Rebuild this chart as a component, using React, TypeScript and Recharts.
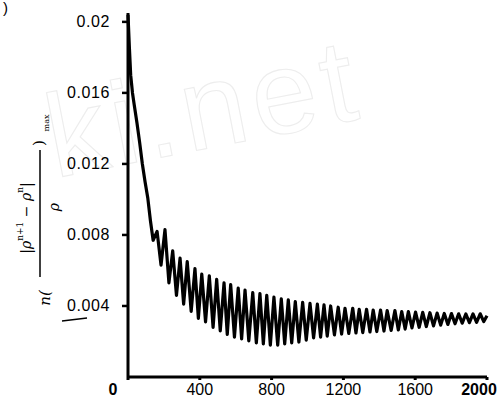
import React from 'react';
import { LineChart, Line, XAxis, YAxis } from 'recharts';

// iteration number n and the max relative density change
const steps = [
  0, 8, 15, 25, 35, 50, 65, 80, 95, 110, 125, 140,
  162, 184, 206, 228, 249, 270, 290, 310, 330, 352, 373, 392, 411, 432, 453, 474,
  494, 514, 535, 553, 572, 593, 614, 633, 652, 673, 695, 715, 735, 754, 773, 793,
  813, 834, 854, 873, 893, 912, 932, 952, 973, 993, 1014, 1034, 1055, 1073, 1092, 1110,
  1129, 1150, 1171, 1190, 1209, 1230, 1252, 1270, 1288, 1308, 1329, 1348, 1366, 1386,
  1407, 1426, 1444, 1466, 1487, 1506, 1525, 1544, 1562, 1582, 1602, 1622, 1642, 1662,
  1682, 1702, 1722, 1742, 1762, 1782, 1802, 1822, 1842, 1862, 1882, 1902, 1922, 1942,
  1962, 1982, 2000,
];

const residual = [
  0.0204, 0.0185, 0.017, 0.016, 0.0153, 0.0143, 0.0132, 0.012, 0.011, 0.0101, 0.0088, 0.0077,
  0.0082, 0.0063, 0.0083, 0.0053, 0.0071, 0.0046, 0.0067, 0.0041, 0.0065, 0.0037, 0.0061, 0.0033,
  0.0058, 0.0031, 0.0057, 0.0028, 0.0055, 0.0026, 0.0053, 0.0024, 0.0052, 0.00225, 0.005, 0.00214,
  0.0049, 0.00203, 0.00475, 0.00192, 0.0047, 0.00186, 0.0046, 0.0018, 0.0045, 0.0018, 0.0044, 0.00186,
  0.00434, 0.00192, 0.00424, 0.00197, 0.0042, 0.00208, 0.00415, 0.0022, 0.0041, 0.00225, 0.00406, 0.0023,
  0.004, 0.00237, 0.00393, 0.00242, 0.00387, 0.00245, 0.00387, 0.00248, 0.00381, 0.0025, 0.00381, 0.00254,
  0.00377, 0.00256, 0.00377, 0.00259, 0.00374, 0.00262, 0.00374, 0.00265, 0.00368, 0.0027, 0.00368, 0.00276,
  0.00366, 0.0028, 0.00364, 0.00284, 0.00362, 0.00288, 0.0036, 0.00292, 0.00358, 0.00296, 0.00357, 0.003,
  0.00356, 0.00303, 0.00355, 0.00306, 0.00355, 0.00308, 0.00356, 0.00312, 0.00345,
];

const xTicks = [0, 400, 800, 1200, 1600, 2000];
const yTicks = [0.004, 0.008, 0.012, 0.016, 0.02];
const yTickLabels = ['0.004', '0.008', '0.012', '0.016', '0.02'];

const data = steps.map((n, i) => ({ n, r: residual[i] }));

const tickFont = '"Liberation Sans", Arial, sans-serif';

const YTick = (props: any) => {
  const i = yTicks.indexOf(props.payload.value);
  return (
    <text x={110} y={props.y} dy={5.5} textAnchor="end" fontFamily={tickFont}
      fontSize={16} letterSpacing={0.6} fill="#000">
      {yTickLabels[i]}
    </text>
  );
};

const XTick = (props: any) => {
  const v = props.payload.value;
  const shift = v === 0 ? -15 : v === 2000 ? -7 : 0;
  const bold = v === 0 || v === 2000;
  return (
    <text x={props.x + shift} y={395} textAnchor="middle" fontFamily={tickFont}
      fontSize={16} fontWeight={bold ? 'bold' : 'normal'} fill="#000">
      {v}
    </text>
  );
};

// rotated y-axis title: n( |ρ^{n+1} - ρ^n| / ρ )_max
const YTitle = () => (
  <g fill="#000" fontFamily='"DejaVu Serif", serif'>
    <text x={45} y={298} fontSize={15} fontStyle="italic" textAnchor="middle"
      dominantBaseline="central" transform="rotate(-90 45 298)">n(</text>
    <text x={26} y={218} fontSize={14} textAnchor="middle" dominantBaseline="central"
      transform="rotate(-90 26 218)">
      <tspan>|</tspan>
      <tspan fontStyle="italic">ρ</tspan>
      <tspan fontSize={9} dy={-6}>n+1</tspan>
      <tspan dy={6}> − </tspan>
      <tspan fontStyle="italic">ρ</tspan>
      <tspan fontSize={9} dy={-6}>n</tspan>
      <tspan dy={6}>|</tspan>
    </text>
    <line x1={40} y1={150} x2={40} y2={277} stroke="#000" strokeWidth={1.5} />
    <text x={54} y={207} fontSize={14} fontStyle="italic" textAnchor="middle"
      dominantBaseline="central" transform="rotate(-90 54 207)">ρ</text>
    <text x={39} y={143} fontSize={15} textAnchor="middle" dominantBaseline="central"
      transform="rotate(-90 39 143)">)</text>
    <text x={46} y={123} fontSize={8} textAnchor="middle" dominantBaseline="central"
      transform="rotate(-90 46 123)">max</text>
  </g>
);

export default function App() {
  return (
    <div style={{ position: 'absolute', left: 0, top: 0, width: 502, height: 407, background: '#fff' }}>
      <svg width={502} height={407} style={{ position: 'absolute', left: 0, top: 0 }}>
        <text x={55} y={178} fontSize={118} fontFamily={tickFont} fill="none"
          stroke="#ededed" strokeWidth={1.1} letterSpacing={6} transform="rotate(-11 55 178)">
          ki.net
        </text>
      </svg>
      <div style={{ position: 'absolute', left: 0, top: 0 }}>
        <LineChart width={502} height={407} data={data}
          margin={{ top: 13, right: 15, bottom: 0, left: 0 }}>
          <XAxis dataKey="n" type="number" domain={[0, 2000]} ticks={xTicks}
            height={30} tick={<XTick />} tickSize={3}
            axisLine={{ stroke: '#000', strokeWidth: 3 }}
            tickLine={{ stroke: '#000', strokeWidth: 3 }} />
          <YAxis type="number" domain={[0, 0.0205]} ticks={yTicks} width={128}
            tick={<YTick />} tickSize={6}
            axisLine={{ stroke: '#000', strokeWidth: 3 }}
            tickLine={{ stroke: '#000', strokeWidth: 2.5 }} />
          <Line type="linear" dataKey="r" stroke="#000" strokeWidth={3.2}
            strokeLinejoin="round" dot={false} isAnimationActive={false} />
        </LineChart>
      </div>
      <svg width={502} height={407} style={{ position: 'absolute', left: 0, top: 0, pointerEvents: 'none' }}>
        <YTitle />
        <line x1={62} y1={321} x2={87} y2={318} stroke="#000" strokeWidth={1.3} />
        <text x={3} y={13} fontSize={15} fontFamily={tickFont} fill="#000">)</text>
      </svg>
    </div>
  );
}
